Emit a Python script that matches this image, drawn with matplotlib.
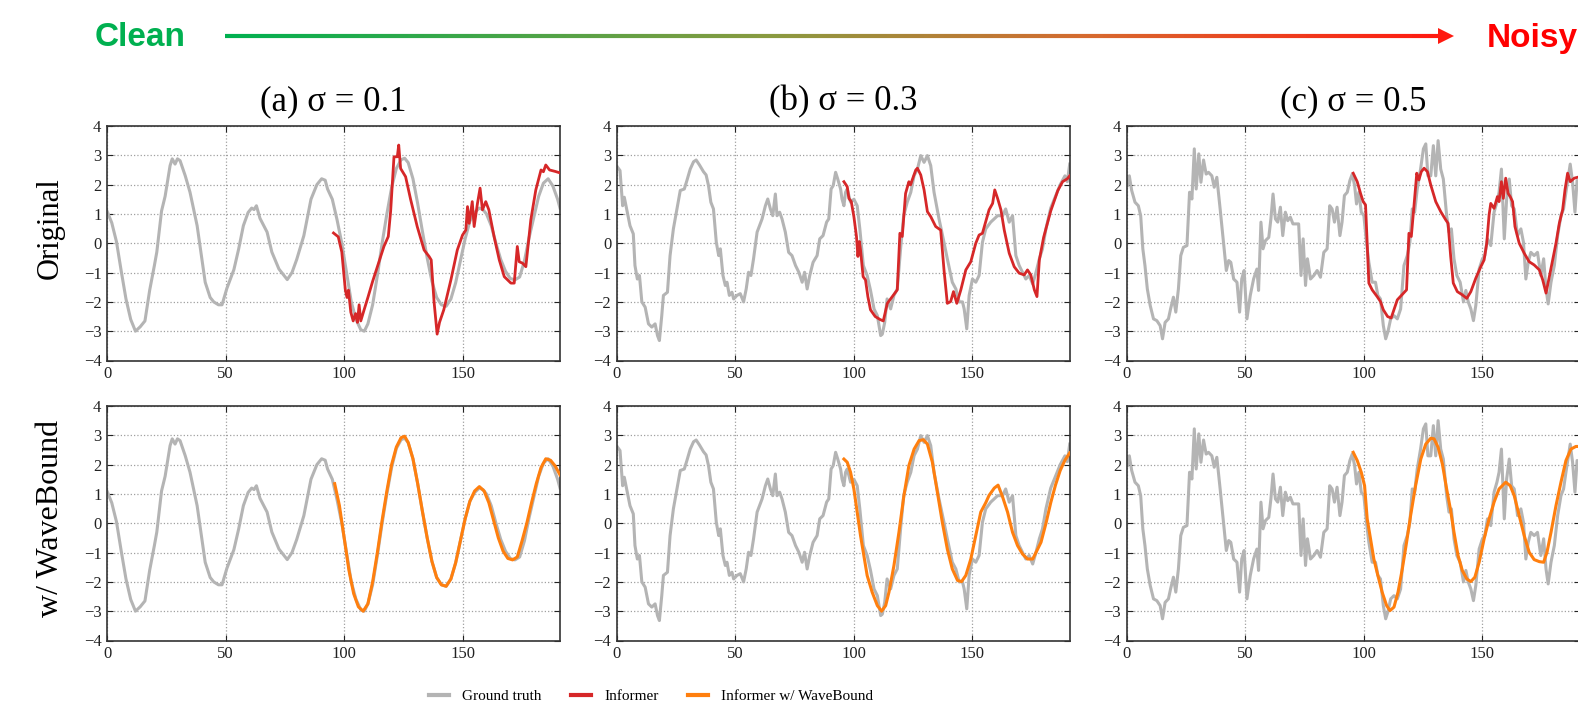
import matplotlib
matplotlib.use("Agg")
import matplotlib.pyplot as plt
import numpy as np
from matplotlib.collections import LineCollection
from matplotlib.colors import LinearSegmentedColormap
from matplotlib.lines import Line2D

plt.rcParams['font.family'] = ['Liberation Serif', 'DejaVu Sans']

# ---------------- data ----------------
titles = ['(a) σ = 0.1', '(b) σ = 0.3', '(c) σ = 0.5']
row_labels = ['Original', 'w/ WaveBound']
legend_labels = ['Ground truth', 'Informer', 'Informer w/ WaveBound']

# ground truth, sigma = 0.1
gt1_x = [0, 2, 4, 6, 8, 10, 12, 14, 16, 18, 20, 21, 23, 24.5, 26.6, 27.5, 28.7, 29.7, 30.8, 33, 35, 38,
         41.4, 43.5, 45, 47, 48.5, 50.5, 53.5, 55.5, 57.5, 59.5, 61, 62, 63, 64.5, 67.5, 69.5, 72.5, 76,
         78, 80, 83, 86, 88.5, 90.5, 92, 93, 95, 97, 99, 101, 103, 105, 107, 108.5, 110, 112, 114, 116,
         118, 120, 122, 124, 125.5, 127, 129, 131, 133, 135, 137, 139, 141, 143, 145, 147, 149, 151, 153,
         155, 157, 158.5, 160, 162, 164, 166, 168, 170, 172, 174, 176, 178, 180, 182, 184, 186, 188, 190, 191]
gt1_y = [1.1, 0.7, 0.05, -0.95, -1.9, -2.6, -3.0, -2.85, -2.65, -1.6, -0.75, -0.3, 1.1, 1.6, 2.65, 2.88, 2.7,
         2.88, 2.82, 2.3, 1.74, 0.6, -1.33, -1.85, -2.0, -2.1, -2.1, -1.55, -0.9, -0.2, 0.6, 1.05, 1.2, 1.15,
         1.28, 0.85, 0.38, -0.3, -0.88, -1.24, -1.0, -0.55, 0.26, 1.5, 2.0, 2.2, 2.15, 1.85, 1.5, 0.8, 0.0,
         -1.0, -2.0, -2.6, -2.95, -3.0, -2.75, -2.1, -1.1, 0.0, 1.0, 1.9, 2.55, 2.85, 2.9, 2.75, 2.2, 1.35,
         0.4, -0.5, -1.3, -1.85, -2.1, -2.15, -1.9, -1.35, -0.6, 0.15, 0.75, 1.05, 1.2, 1.15, 1.0, 0.6, 0.0,
         -0.55, -0.95, -1.2, -1.25, -1.15, -0.6, 0.2, 0.9, 1.6, 2.05, 2.2, 1.95, 1.5, 1.2]

# ground truth, sigma = 0.3
gt2_x = [0.3, 1.4, 2.5, 3.2, 4.2, 5.6, 7, 7.7, 8.7, 9.6, 10.6, 12, 13.4, 14.8, 16.2, 17.2, 18, 19, 19.7,
         21.4, 22.5, 23.9, 25.4, 26.8, 28.5, 29.6, 31, 32.4, 33.5, 34.9, 36.6, 37.7, 38.7, 39.7, 40.8, 42,
         43, 43.7, 44.8, 45.8, 46.5, 47.5, 48.6, 49.3, 50.7, 52.1, 53.5, 54.6, 55.6, 56.6, 57.7, 59.2, 61.3,
         62.7, 63.7, 64.8, 65.8, 66.9, 67.6, 68.7, 69.7, 71.1, 72.5, 73.9, 75.4, 76.8, 78.2, 79.2, 80.3,
         81.4, 82.8, 84.5, 85.6, 87, 88.5, 89.4, 90.4, 91.3, 92.3, 93.2, 94.4, 95, 95.8, 96.5, 97.2, 98.6,
         100, 101.4, 102.5, 104, 105.6, 107, 108.5, 109.9, 111.3, 112, 113, 114, 115.5, 116.9, 118.3, 119.7,
         121, 122.5, 124, 125.4, 126.8, 128.2, 129.6, 131, 132.4, 133.8, 135.9, 138, 139.4, 141.5, 143,
         144.4, 145.8, 146.5, 147.6, 148.6, 150, 151.4, 152.8, 154.2, 155.6, 157.7, 160.6, 162.7, 164,
         165.5, 166.9, 168.3, 169.7, 171.1, 172.5, 173.9, 175.4, 176.8, 178.2, 179.5, 181, 183, 185, 187,
         189, 190, 191]
gt2_y = [2.6, 2.48, 1.28, 1.57, 1.17, 0.6, 0.32, -0.76, -1.22, -1.1, -2.0, -2.18, -2.75, -2.86, -2.75, -3.15,
         -3.32, -2.47, -1.78, -1.67, -0.42, 0.49, 1.17, 1.8, 1.85, 2.14, 2.53, 2.78, 2.84, 2.67, 2.44, 2.33,
         1.97, 1.4, 1.17, 0.03, -0.42, -0.19, -1.1, -1.44, -1.33, -1.78, -1.67, -1.9, -1.78, -1.72, -2.0,
         -1.56, -0.99, -1.1, -0.53, 0.38, 0.83, 1.28, 1.51, 1.17, 0.94, 1.68, 0.94, 1.06, 0.83, 0.38, -0.31,
         -0.42, -0.76, -0.99, -1.33, -0.99, -1.56, -1.1, -0.65, -0.42, 0.15, 0.26, 0.72, 0.83, 1.85, 1.97,
         2.42, 2.19, 1.85, 1.51, 1.28, 1.74, 1.85, 1.4, 1.5, 1.28, 0.5, -0.76, -1.1, -1.6, -2.24, -2.47,
         -3.15, -3.1, -2.7, -1.9, -2.24, -1.78, -1.56, -0.19, 0.94, 1.4, 1.74, 2.31, 2.53, 2.99, 2.76, 2.99,
         2.65, 1.74, 0.83, 0.03, -0.53, -1.33, -1.56, -2.0, -2.0, -2.24, -2.92, -1.78, -1.22, -1.33, -1.1,
         0.03, 0.49, 0.72, 0.94, 0.94, 1.17, 0.72, 0.94, -0.42, -0.76, -0.99, -1.22, -1.1, -1.39, -0.99,
         -0.53, -0.2, 0.5, 1.2, 1.6, 2.0, 2.3, 2.1, 2.7]

# ground truth, sigma = 0.5
gt3_x = [0.3, 1.1, 2.1, 3.5, 4.9, 5.9, 6.8, 7.7, 8.7, 9.9, 11.3, 12.7, 14.1, 15.1, 16.2, 17.6, 18.5, 19.7,
         20.7, 21.8, 22.8, 23.9, 25.4, 26.5, 27.5, 28.5, 29.3, 30.4, 31.3, 32.4, 33.5, 34.5, 35.9, 36.9, 38,
         39.4, 40.8, 42, 43, 43.9, 45.1, 46.5, 47.6, 48.5, 49.5, 50.7, 52.1, 53.5, 54.9, 55.6, 56.6, 57.5,
         58.5, 59.9, 60.8, 61.7, 62.7, 63.7, 64.8, 65.8, 66.9, 67.9, 69, 70.1, 71.1, 72.5, 73.5, 74.4, 75.4,
         76.2, 77.5, 78.9, 80.3, 81.7, 83.1, 84.5, 85.6, 86.6, 87.6, 88.7, 89.9, 90.8, 91.8, 93, 94.1, 95.1,
         96.1, 96.9, 97.9, 98.9, 100, 101.1, 102.1, 103.5, 104.9, 105.9, 107, 108.2, 109.2, 110.1, 111.3,
         112.7, 114.1, 115.5, 116.9, 118.3, 119.4, 120.4, 121.4, 122.5, 123.9, 125.1, 126.1, 127, 128.2,
         129.3, 130.3, 131.3, 132.4, 133.5, 134.9, 135.9, 136.9, 138, 139.2, 140.6, 142, 143, 144, 145.1,
         146.2, 147.2, 148.6, 150, 151, 152.1, 153.5, 154.9, 156.1, 157, 158, 159.2, 160.2, 161.3, 162.3,
         163.4, 164.8, 166.2, 167.3, 168.3, 169.3, 170.4, 171.8, 173.2, 174.6, 175.8, 176.8, 177.7, 178.9,
         180.3, 181.7, 183.1, 184.2, 185.2, 187, 188, 189, 189.9, 191]
gt3_y = [1.97, 2.3, 1.8, 1.4, 1.28, 0.94, -0.19, -0.76, -1.56, -2.12, -2.58, -2.64, -2.81, -3.26, -2.7, -2.58,
         -2.24, -1.84, -2.35, -1.56, -0.42, -0.14, -0.08, 1.74, 1.51, 3.22, 1.85, 3.05, 2.08, 2.84, 2.36, 2.42,
         2.3, 1.91, 2.25, 1.17, 0.03, -0.93, -0.59, -0.65, -1.22, -1.33, -2.35, -1.22, -0.93, -2.58, -1.78,
         -1.22, -0.88, -1.61, 0.72, -0.19, 0.09, 0.2, 0.83, 1.68, 0.83, 0.72, 1.23, 0.26, 1.06, 0.77, 0.89,
         0.66, 0.66, 0.66, -1.1, 0.15, -1.44, -0.53, -1.22, -1.1, -0.93, -1.16, -0.31, -0.19, 1.28, 1.17,
         0.72, 1.23, 0.26, 0.72, 1.63, 1.74, 2.14, 2.36, 1.97, 1.34, 1.74, 1.06, 0.94, 0.03, -0.65, -1.33,
         -1.33, -1.78, -1.9, -2.81, -3.26, -3.03, -2.58, -2.47, -2.58, -2.24, -0.76, -0.42, 0.03, 1.17, 1.06,
         1.85, 2.53, 3.22, 3.39, 2.3, 2.3, 3.33, 2.3, 3.5, 2.53, 2.19, 0.94, 0.38, 0.49, -0.53, -1.1, -1.33,
         -2.0, -1.61, -2.0, -2.24, -2.64, -2.12, -0.88, -0.53, -0.42, 0.15, -0.08, 1.06, 1.4, 1.74, 2.53,
         0.15, 1.51, 2.19, 1.28, 1.17, 0.26, 0.49, 0.03, -1.22, -0.65, -0.31, -0.42, -0.31, -1.1, -0.53,
         -1.56, -2.07, -1.33, -0.76, 0.26, 0.94, 1.17, 1.74, 2.7, 2.08, 1.06, 2.14, 2.1]

# Informer predictions (top row)
inf1_x = [95.5, 97.5, 99, 100.5, 101.2, 101.8, 102.8, 103.8, 104.8, 105.6, 106.3, 107, 108.3, 110, 112, 114,
          116.8, 118.6, 119.6, 121, 122.4, 123, 123.8, 125.9, 128, 130.8, 133.7, 135.8, 136.7, 137.9, 139.2,
          140.2, 142, 145, 147.7, 149.9, 151.3, 152, 152.7, 154, 154.8, 156.2, 157.3, 158.3, 159.7, 161,
          163.2, 165.4, 167.5, 170.3, 171.7, 173, 173.8, 175.2, 176.6, 178.7, 180.8, 183, 184, 185, 186.6,
          189, 191]
inf1_y = [0.35, 0.22, -0.3, -1.6, -1.85, -1.6, -2.35, -2.65, -2.4, -2.7, -2.1, -2.65, -2.3, -1.85, -1.3, -0.8,
          -0.1, 0.23, 1.1, 2.95, 2.95, 3.35, 2.55, 2.27, 1.5, 0.57, -0.23, -0.45, -0.57, -2.0, -3.1, -2.7,
          -2.27, -1.25, -0.23, 0.28, 0.45, 1.25, 0.68, 1.42, 0.57, 1.36, 1.88, 1.14, 1.42, 1.14, 0.23, -0.57,
          -1.14, -1.36, -1.36, -0.11, -0.63, -0.68, -0.8, 0.8, 1.82, 2.5, 2.44, 2.67, 2.5, 2.45, 2.4]

inf2_x = [95.8, 97.2, 97.9, 98.9, 100, 101.1, 101.7, 102.3, 102.8, 103.9, 104.9, 105.9, 107, 109, 111, 112.4,
          114.1, 118.3, 119.4, 120.4, 121.8, 123.2, 123.9, 124.6, 126.1, 126.8, 128.2, 129.6, 131, 132.4,
          134.5, 136.6, 138, 139.4, 140.8, 142, 143.4, 145.1, 147.2, 149.3, 151.4, 152.8, 154.2, 155.6, 157,
          158.5, 159.4, 160.6, 162, 163.4, 165.5, 167.6, 169.7, 171.8, 173.2, 174.6, 176.1, 177.2, 178.2,
          180, 183, 186, 188, 190, 191]
inf2_y = [2.1, 1.93, 1.53, 1.42, 0.91, 0.23, -0.45, 0.06, -0.23, -1.14, -1.25, -1.82, -2.27, -2.5, -2.6, -2.65,
          -2.05, -1.59, 0.34, 0.23, 1.7, 2.1, 1.99, 2.16, 2.5, 2.56, 2.33, 1.82, 1.08, 0.91, 0.57, 0.45, -0.91,
          -2.05, -1.99, -1.65, -2.05, -1.59, -0.91, -0.63, 0.0, 0.28, 0.34, 0.74, 1.14, 1.36, 1.82, 1.53, 1.14,
          0.45, -0.34, -0.8, -1.02, -1.08, -0.91, -1.08, -1.59, -1.82, -0.57, 0.2, 1.1, 1.8, 2.1, 2.2, 2.3]

inf3_x = [95.5, 97.2, 98.6, 99.7, 100.7, 101.4, 102.1, 103.5, 105.6, 107, 108.2, 110, 111.5, 114.1, 118, 119,
          120, 121.1, 122.3, 123.2, 124.2, 125.4, 126.8, 128.2, 130.3, 132.4, 134.5, 135.5, 136.6, 137.7,
          139.4, 141.5, 143.4, 145.1, 147.2, 149.3, 150.7, 151.8, 152.8, 153.5, 154.9, 156.3, 157, 158,
          158.8, 159.8, 160.8, 161.7, 162.7, 163.7, 165.5, 167.6, 169.7, 171.8, 174, 175.4, 176.8, 178.2,
          179.6, 181, 182.4, 183.8, 184.8, 185.9, 187, 188.7, 191]
inf3_y = [2.39, 2.1, 1.7, 1.42, 1.31, 0.0, -1.36, -1.59, -1.82, -1.99, -2.27, -2.5, -2.55, -1.93, -1.59, 0.34,
          0.23, 1.25, 2.39, 2.16, 2.44, 2.56, 2.44, 1.99, 1.42, 1.08, 0.8, 0.68, -0.45, -1.36, -1.65, -1.76,
          -1.88, -1.65, -1.19, -0.8, -0.57, 0.0, 0.97, 1.36, 1.19, 1.59, 1.42, 2.1, 1.53, 2.22, 1.7, 1.59,
          1.42, 0.57, 0.0, -0.34, -0.63, -0.74, -0.91, -1.25, -1.7, -1.14, -0.57, 0.0, 0.68, 1.14, 1.82, 2.39,
          2.1, 2.22, 2.27]

# Informer w/ WaveBound predictions (bottom row)
wb1_x = [96, 98, 100, 102, 104, 106, 108, 110, 112, 114, 116, 118, 120, 122, 124, 125.5, 127, 129, 131, 133,
         135, 137, 139, 141, 143, 145, 147, 149, 151, 153, 155, 157, 159, 161, 163, 165, 167, 169, 171, 173,
         175, 177, 179, 181, 183, 185, 187, 189, 191]
wb1_y = [1.35, 0.6, -0.5, -1.6, -2.4, -2.85, -3.0, -2.75, -2.0, -1.0, 0.1, 1.1, 2.0, 2.6, 2.92, 2.97, 2.75,
         2.2, 1.35, 0.4, -0.5, -1.3, -1.85, -2.1, -2.15, -1.9, -1.35, -0.6, 0.15, 0.75, 1.1, 1.25, 1.1, 0.7,
         0.1, -0.5, -0.95, -1.2, -1.25, -1.15, -0.6, 0.0, 0.7, 1.35, 1.9, 2.2, 2.15, 1.95, 1.65]

wb2_x = [95.8, 97.2, 98.6, 100, 101.4, 102.8, 104.2, 105.6, 107.7, 109.9, 111.7, 113.4, 114.8, 116.9, 119,
         121.1, 123.2, 125.4, 127.5, 129.3, 131, 133.1, 135.2, 137.3, 139.4, 141.5, 143.7, 145.4, 147.2,
         149.3, 151.4, 153.5, 155.6, 157, 159.2, 160.8, 162.7, 164.8, 166.9, 169, 171.1, 173.2, 175.4,
         177.5, 178.9, 181, 183, 185, 187, 189, 191]
wb2_y = [2.19, 2.08, 1.74, 1.17, 0.38, -0.42, -1.1, -1.78, -2.35, -2.81, -3.0, -2.81, -2.35, -1.44, -0.31,
         0.94, 1.97, 2.53, 2.82, 2.85, 2.7, 2.08, 1.06, 0.03, -0.88, -1.56, -1.95, -1.99, -1.78, -1.22, -0.42,
         0.38, 0.7, 0.95, 1.2, 1.3, 0.9, 0.38, -0.31, -0.76, -1.05, -1.22, -1.22, -0.88, -0.65, 0.0, 0.7,
         1.3, 1.8, 2.15, 2.4]

wb3_x = [95.5, 97.2, 98.9, 100.3, 101.4, 102.8, 104.2, 105.9, 107.7, 109.6, 111, 112.7, 114.4, 116.2, 118,
         119.7, 121.8, 124, 126.1, 128.2, 129.6, 131.3, 133.1, 134.9, 136.6, 138, 139.7, 141.5, 143.4,
         145.1, 146.8, 148.6, 150.7, 152.8, 154.9, 157, 159.8, 161.7, 163.4, 165.5, 167.6, 169.7, 171.8,
         174, 175.8, 177.2, 178.9, 181, 183.1, 185.2, 187.3, 189.4, 191]
wb3_y = [2.42, 2.14, 1.74, 1.28, 0.15, -0.53, -1.22, -1.78, -2.35, -2.81, -2.98, -2.86, -2.35, -1.56, -0.65,
         0.26, 1.28, 2.19, 2.7, 2.9, 2.88, 2.59, 2.02, 1.17, 0.43, -0.31, -1.1, -1.61, -1.9, -1.99, -1.84,
         -1.33, -0.53, 0.15, 0.72, 1.17, 1.4, 1.28, 0.94, 0.26, -0.42, -0.99, -1.24, -1.31, -1.33, -0.99,
         -0.31, 0.6, 1.4, 2.14, 2.53, 2.62, 2.62]

gt = [(gt1_x, gt1_y), (gt2_x, gt2_y), (gt3_x, gt3_y)]
inf = [(inf1_x, inf1_y), (inf2_x, inf2_y), (inf3_x, inf3_y)]
wb = [(wb1_x, wb1_y), (wb2_x, wb2_y), (wb3_x, wb3_y)]

c_gt = '#b4b4b4'
c_inf = '#d62728'
c_wb = '#ff7f0e'

# ---------------- figure ----------------
W, H = 1578, 716
fig = plt.figure(figsize=(W / 100, H / 100), dpi=100)

lefts = [107, 616.7, 1126.7]
tops = [126, 406]
aw, ah = 453, 234.5

for c in range(3):
    for r in range(2):
        ax = fig.add_axes([lefts[c] / W, 1 - (tops[r] + ah) / H, aw / W, ah / H])
        ax.plot(gt[c][0], gt[c][1], color=c_gt, lw=2.2, zorder=2)
        if r == 0:
            ax.plot(inf[c][0], inf[c][1], color=c_inf, lw=2.0, zorder=3)
        else:
            ax.plot(wb[c][0], wb[c][1], color=c_wb, lw=2.2, zorder=3)
        ax.set_xlim(0, 191)
        ax.set_ylim(-4, 4)
        ax.set_xticks([0, 50, 100, 150])
        ax.set_yticks(range(-4, 5))
        ax.grid(True, ls=':', color='#a0a0a0', lw=0.9)
        ax.tick_params(direction='in', top=True, right=True, length=4, width=0.8,
                       labelsize=12, pad=4, colors='#222222')
        for s in ax.spines.values():
            s.set_linewidth(1.2)
            s.set_color('#333333')
        if r == 0:
            ax.set_title(titles[c], fontsize=25, pad=11)

# row labels
fig.text(50 / W, 1 - 228 / H, row_labels[0], rotation=90, ha='center', va='center', fontsize=22)
fig.text(50 / W, 1 - 518 / H, row_labels[1], rotation=90, ha='center', va='center', fontsize=23)

# legend
handles = [Line2D([], [], color=c_gt, lw=3),
           Line2D([], [], color=c_inf, lw=3),
           Line2D([], [], color=c_wb, lw=3)]
fig.legend(handles, legend_labels, loc='center', bbox_to_anchor=(651 / W, 1 - 696 / H),
           ncol=3, frameon=False, fontsize=11, handlelength=1.3, handletextpad=0.9,
           columnspacing=1.9)

# clean -> noisy arrow on top, drawn in pixel coordinates
top = fig.add_axes([0, 0, 1, 1], zorder=-1)
top.set_xlim(0, W)
top.set_ylim(H, 0)
top.axis('off')

cmap = LinearSegmentedColormap.from_list(
    'cn', [(0, '#00b050'), (0.45, '#8a9a40'), (0.72, '#d8682e'), (1, '#ff1a10')])
xs = np.linspace(225, 1440, 300)
segs = [[(xs[i], 36), (xs[i + 1], 36)] for i in range(len(xs) - 1)]
lc = LineCollection(segs, colors=cmap(np.linspace(0, 1, len(segs))), linewidths=3)
top.add_collection(lc)
top.fill([1438, 1454, 1438], [28, 36, 44], color='#ff1a10', lw=0)

fig.text(95 / W, 1 - 38 / H, 'Clean', color='#00b050', fontsize=24, fontweight='bold',
         family=['Liberation Sans', 'DejaVu Sans'], ha='left', va='center')
fig.text(1487 / W, 1 - 38 / H, 'Noisy', color='#ff0000', fontsize=24, fontweight='bold',
         family=['Liberation Sans', 'DejaVu Sans'], ha='left', va='center')

fig.savefig('out.png', dpi=100)
